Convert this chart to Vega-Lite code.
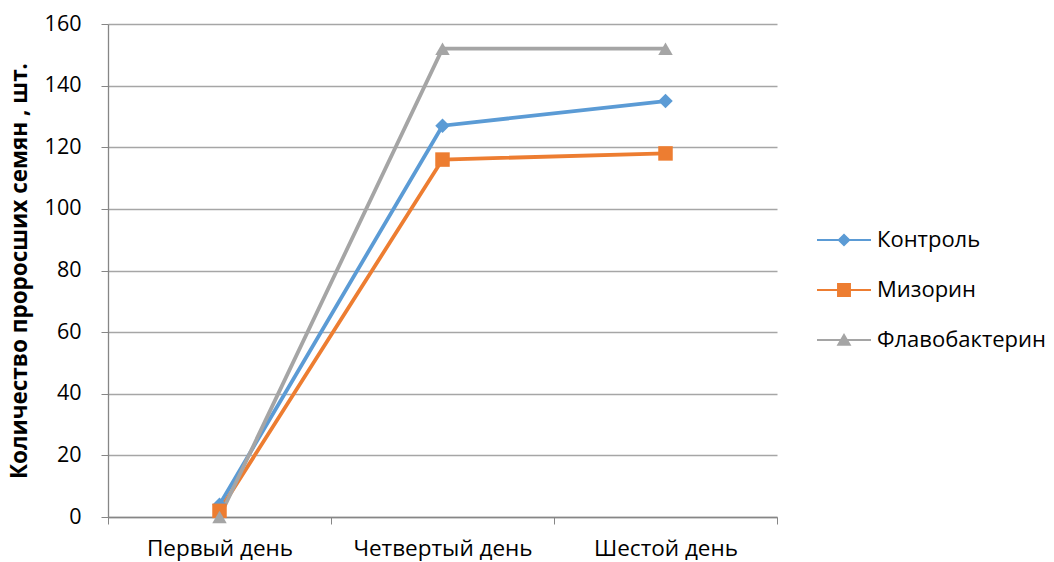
{
  "$schema": "https://vega.github.io/schema/vega-lite/v6.json",
  "width": 669,
  "height": 493,
  "autosize": {"type": "none"},
  "padding": {"left": 108, "top": 24, "right": 277, "bottom": 45},
  "background": "white",
  "config": {
    "view": {"stroke": null},
    "font": "Open Sans",
    "axis": {"labelFont": "Open Sans", "titleFont": "Open Sans", "labelColor": "#000000", "titleColor": "#000000"}
  },
  "data": {
    "values": [
      {"day": "Первый день", "series": "Контроль", "value": 4},
      {"day": "Четвертый день", "series": "Контроль", "value": 127},
      {"day": "Шестой день", "series": "Контроль", "value": 135},
      {"day": "Первый день", "series": "Мизорин", "value": 2},
      {"day": "Четвертый день", "series": "Мизорин", "value": 116},
      {"day": "Шестой день", "series": "Мизорин", "value": 118},
      {"day": "Первый день", "series": "Флавобактерин", "value": 0},
      {"day": "Четвертый день", "series": "Флавобактерин", "value": 152},
      {"day": "Шестой день", "series": "Флавобактерин", "value": 152}
    ]
  },
  "encoding": {
    "x": {
      "field": "day",
      "type": "nominal",
      "sort": ["Первый день", "Четвертый день", "Шестой день"],
      "scale": {"type": "band", "paddingInner": 0, "paddingOuter": 0},
      "axis": {
        "title": null,
        "labelAngle": 0,
        "labelFontSize": 22.5,
        "labelPadding": 13,
        "labelLimit": 300,
        "tickBand": "extent",
        "tickSize": 7,
        "tickColor": "#868686",
        "domainColor": "#868686",
        "domainWidth": 1.3,
        "grid": false
      }
    },
    "y": {
      "field": "value",
      "type": "quantitative",
      "scale": {"domain": [0, 160], "nice": false},
      "axis": {
        "title": "Количество проросших семян , шт.",
        "titleFontSize": 22.5,
        "titleFontWeight": "bold",
        "titlePadding": 13,
        "values": [0, 20, 40, 60, 80, 100, 120, 140, 160],
        "labelFontSize": 21.5,
        "labelPadding": 20,
        "tickSize": 7,
        "tickColor": "#868686",
        "domainColor": "#868686",
        "domainWidth": 1.3,
        "grid": true,
        "gridColor": "#a6a6a6",
        "gridWidth": 1.3
      }
    },
    "color": {
      "field": "series",
      "type": "nominal",
      "sort": ["Контроль", "Мизорин", "Флавобактерин"],
      "scale": {"range": ["#5B9BD5", "#ED7D31", "#A5A5A5"]}
    }
  },
  "layer": [
    {
      "mark": {"type": "line", "strokeWidth": 3.8},
      "encoding": {
        "color": {
          "field": "series",
          "type": "nominal",
          "sort": ["Контроль", "Мизорин", "Флавобактерин"],
          "scale": {"range": ["#5B9BD5", "#ED7D31", "#A5A5A5"]},
          "legend": {
            "title": null,
            "orient": "none",
            "legendX": 724,
            "legendY": 204,
            "padding": 0,
            "symbolSize": 576,
            "labelFontSize": 22,
            "labelFont": "Open Sans",
            "labelColor": "#000000",
            "labelOffset": 21,
            "labelLimit": 400,
            "rowPadding": 27,
            "encode": {
              "symbols": {
                "update": {
                  "shape": {"signal": "datum.value === 'Контроль' ? 'M-2.25,-0.09H2.25V0.09H-2.25Z M0,-0.55L0.55,0L0,0.55L-0.55,0Z' : datum.value === 'Мизорин' ? 'M-2.25,-0.09H2.25V0.09H-2.25Z M-0.58,-0.58H0.58V0.58H-0.58Z' : 'M-2.25,-0.09H2.25V0.09H-2.25Z M0,-0.58L0.62,0.48L-0.62,0.48Z'"},
                  "fill": {"scale": "color", "field": "value"},
                  "fillOpacity": {"value": 1},
                  "strokeWidth": {"value": 0}
                }
              }
            }
          }
        }
      }
    },
    {
      "mark": {"type": "point", "filled": true, "opacity": 1},
      "encoding": {
        "shape": {
          "field": "series",
          "type": "nominal",
          "sort": ["Контроль", "Мизорин", "Флавобактерин"],
          "scale": {"range": ["diamond", "square", "triangle-up"]},
          "legend": null
        },
        "size": {
          "field": "series",
          "type": "nominal",
          "sort": ["Контроль", "Мизорин", "Флавобактерин"],
          "scale": {"range": [210, 210, 200]},
          "legend": null
        }
      }
    }
  ]
}
